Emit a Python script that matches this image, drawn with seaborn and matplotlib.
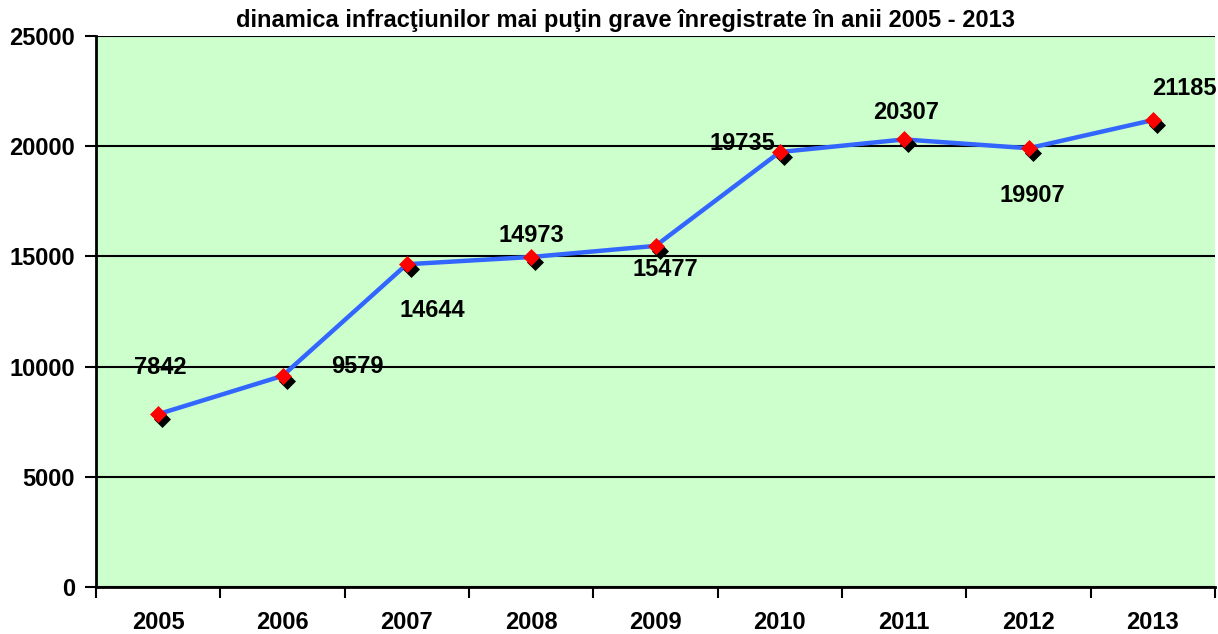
#Line chart: dinamica infracţiunilor mai puţin grave 2005 - 2013

import numpy as np
import matplotlib
matplotlib.use("Agg")
import matplotlib.pyplot as plt
import matplotlib.transforms as mtransforms
import seaborn as sns

years = ["2005", "2006", "2007", "2008", "2009", "2010", "2011", "2012", "2013"]
values = [7842, 9579, 14644, 14973, 15477, 19735, 20307, 19907, 21185]
y_ticks = [0, 5000, 10000, 15000, 20000, 25000]
title = "dinamica infracţiunilor mai puţin grave înregistrate în anii 2005 - 2013"

# label offsets in pixels (dx, dy) from each point
label_offsets = [(2, 47), (75, 9), (25, -46), (0, 21), (10, -24),
                 (-37, 9), (2, 27), (4, -47), (32, 32)]

sns.set_style("white")
plt.rcParams["font.family"] = ["Liberation Sans", "DejaVu Sans"]
plt.rcParams["font.weight"] = "bold"
plt.rcParams["text.color"] = "black"
plt.rcParams["xtick.color"] = "black"
plt.rcParams["ytick.color"] = "black"

FS = 17

fig = plt.figure(figsize=(12.18, 6.34), dpi=100)
ax = fig.add_axes([96 / 1218, 47 / 634, (1215 - 96) / 1218, (587 - 36) / 634])
ax.set_facecolor("#CCFFCC")

x = np.arange(len(years))

# line
sns.lineplot(x=x, y=values, ax=ax, color="#3366FF", linewidth=3.2, zorder=3)

# shadow diamonds then red diamonds
shadow = mtransforms.offset_copy(ax.transData, fig=fig, x=4, y=-5, units="dots")
ax.scatter(x, values, marker="D", s=75, color="black", transform=shadow,
           zorder=4, linewidths=0)
sns.scatterplot(x=x, y=values, ax=ax, marker="D", s=75, color="#FF0000",
                linewidth=0, zorder=5)

for xi, v, (dx, dy) in zip(x, values, label_offsets):
    ax.annotate(str(v), (xi, v), xytext=(dx, dy), textcoords="offset pixels",
                ha="center", va="center", fontsize=FS, fontweight="bold",
                color="black")

ax.set_xlim(-0.5, len(years) - 0.5)
ax.set_ylim(0, 25000)
ax.set_yticks(y_ticks)
ax.set_yticklabels([str(t) for t in y_ticks], fontsize=FS, fontweight="bold")
ax.yaxis.grid(True, color="black", linewidth=1.5)
ax.set_axisbelow(True)

# ticks between categories, labels at centres
ax.set_xticks(np.arange(-0.5, len(years), 1.0))
ax.set_xticklabels([])
ax.set_xticks(x, minor=True)
ax.set_xticklabels(years, minor=True, fontsize=FS, fontweight="bold")
ax.tick_params(axis="x", which="major", direction="out", length=8, width=1.5,
               color="black", bottom=True)
ax.tick_params(axis="x", which="minor", length=0, pad=17)
ax.tick_params(axis="y", direction="out", length=8, width=1.5, color="black",
               left=True, pad=7)

for side in ["top", "right"]:
    ax.spines[side].set_visible(False)
for side in ["left", "bottom"]:
    ax.spines[side].set_color("black")
    ax.spines[side].set_linewidth(2)

fig.text(626 / 1218, 1 - 20 / 634, title, ha="center", va="center",
         fontsize=FS, fontweight="bold")

fig.savefig("out.png", dpi=100, facecolor="white")
